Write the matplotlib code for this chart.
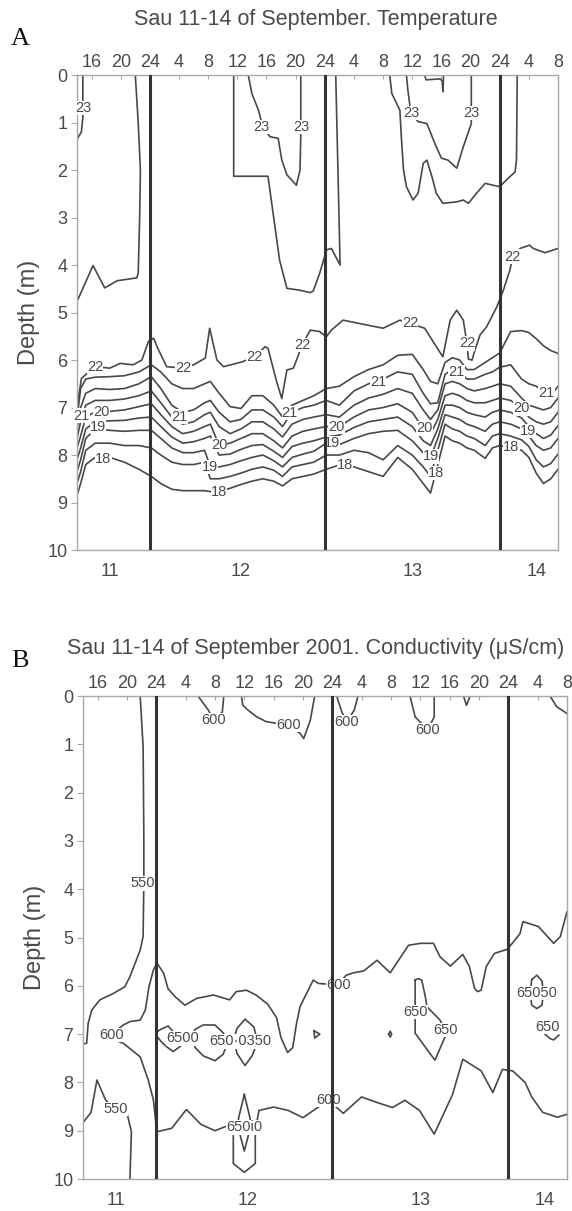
import numpy as np
import matplotlib
matplotlib.use('Agg')
import matplotlib.pyplot as plt

plt.rcParams['font.family'] = ['Liberation Sans', 'DejaVu Sans']

# ---------------- axis data ----------------
HOUR_TICKS = list(range(16, 81, 4))
HOUR_LABELS = ['16', '20', '24', '4', '8', '12', '16', '20', '24', '4', '8',
               '12', '16', '20', '24', '4', '8']
DAY_LABELS = ['11', '12', '13', '14']
DAY_POS = [18.5, 36.5, 60.0, 77.0]
MIDNIGHTS = [24, 48, 72]
DEPTH_TICKS = list(range(0, 11))

# ---------------- panel A: temperature isolines (hour, depth) ----------------
t23_left = [14.8, 14.8, 14.6, 14.0]
d23_left = [0.0, 0.9, 1.2, 1.35]

t225_left = [22.0, 22.4, 22.7, 22.6, 22.4, 22.2, 19.5, 18.5, 17.8, 16.2, 14.2, 14.0]
d225_left = [0.0, 1.0, 2.0, 3.0, 4.17, 4.27, 4.33, 4.42, 4.48, 4.01, 4.7, 4.75]

t23_d12 = [37.5, 38.0, 38.9, 39.5, 40.5, 41.6, 42.1, 42.8, 44.1, 44.6, 44.7, 44.7]
d23_d12 = [0.0, 0.39, 0.74, 1.1, 1.30, 1.33, 1.79, 2.1, 2.32, 2.0, 1.3, 0.0]

t225_d12 = [35.5, 35.5, 40.2, 41.8, 42.8, 44.6, 46.0, 46.4, 47.3, 48.25, 48.9, 50.1, 49.8, 49.5]
d225_d12 = [0.0, 2.13, 2.13, 3.9, 4.49, 4.53, 4.58, 4.55, 4.17, 3.68, 3.65, 4.0, 2.0, 0.0]

t23_d13 = [59.2, 59.4, 59.7, 59.9, 60.8, 62.0, 63.1, 64.0, 64.9, 66.1, 67.0, 68.1, 68.1, 68.1]
d23_d13 = [0.0, 0.32, 0.67, 0.8, 0.98, 1.02, 1.44, 1.75, 1.79, 1.96, 1.51, 1.02, 0.39, 0.0]

t225_d13 = [56.9, 57.2, 58.3, 58.5, 58.8, 59.2, 60.1, 60.8, 61.5, 62.0, 62.7, 63.3, 64.2,
            66.1, 67.0, 67.7, 68.8, 70.0, 71.1, 72.0, 72.9, 74.1, 74.3, 74.4]
d225_d13 = [0.0, 0.39, 0.74, 1.3, 2.0, 2.35, 2.63, 2.49, 1.86, 1.79, 2.14, 2.49, 2.7,
            2.67, 2.63, 2.7, 2.49, 2.28, 2.32, 2.35, 2.21, 2.04, 1.79, 0.0]

t23_small = [61.7, 61.9, 63.8, 64.1, 64.2, 64.3]
d23_small = [0.0, 0.1, 0.08, 0.12, 0.35, 0.0]

t22 = [14.0, 14.6, 15.1, 16.5, 18.5, 19.9, 21.7, 22.9, 23.8, 24.5, 25.2, 26.3, 28.6,
       30.0, 31.6, 32.2, 33.2, 34.1, 36.6, 38.3, 39.8, 40.2, 41.4, 42.1, 42.8, 43.7,
       44.9, 46.0, 47.3, 48.2, 48.9, 50.5, 53.7, 56.0, 58.3, 59.7, 61.7, 63.6, 64.2,
       65.2, 66.1, 67.0, 67.5, 67.7, 68.2, 68.6, 69.3, 70.2, 71.6, 72.5, 73.4, 73.8,
       74.8, 76.1, 76.6, 78.2, 80.0]
d22 = [7.0, 6.39, 6.32, 6.14, 6.17, 6.07, 6.1, 6.0, 5.61, 5.54, 5.79, 6.14, 6.17,
       6.1, 5.96, 5.33, 6.0, 6.14, 6.04, 5.94, 5.72, 5.75, 6.46, 6.81, 6.21, 6.17,
       5.68, 5.37, 5.40, 5.51, 5.37, 5.16, 5.26, 5.33, 5.16, 5.23, 5.33, 5.79, 5.93,
       5.16, 4.95, 5.16, 5.65, 5.98, 6.0, 5.79, 5.47, 5.30, 4.88, 4.53, 4.1, 3.82,
       3.65, 3.58, 3.65, 3.74, 3.65]

# thermocline isotherms 21.5 .. 18 on a shared set of hours
t_th = [14.0, 14.5, 15.2, 16.5, 18.5, 20.5, 22.5, 24.2, 25.5, 27.0, 28.5, 30.0, 31.5,
        32.3, 33.5, 35.0, 36.5, 38.0, 39.5, 41.0, 42.2, 43.5, 45.0, 46.5, 48.2, 50.0,
        52.0, 54.0, 56.0, 58.0, 60.0, 61.5, 62.5, 63.5, 64.5, 65.5, 66.5, 67.5, 68.5,
        70.0, 71.0, 72.0, 73.5, 75.0, 76.0, 77.0, 78.0, 79.0, 80.0]
d215 = [7.25, 6.6, 6.4, 6.36, 6.35, 6.33, 6.25, 6.1, 6.25, 6.5, 6.6, 6.6, 6.5,
        6.45, 6.7, 6.98, 7.02, 6.75, 6.75, 6.95, 7.2, 6.95, 6.85, 6.75, 6.6, 6.55,
        6.35, 6.2, 6.1, 5.9, 5.88, 6.2, 6.45, 6.5, 6.05, 5.95, 6.0, 6.2, 6.2,
        6.05, 5.95, 5.85, 5.4, 5.38, 5.42, 5.55, 5.7, 5.8, 5.86]
d21 = [7.45, 7.0, 6.7, 6.6, 6.62, 6.6, 6.5, 6.35, 6.6, 6.95, 7.1, 7.05, 6.9,
       6.85, 7.1, 7.3, 7.25, 7.05, 7.05, 7.2, 7.4, 7.1, 7.0, 6.95, 6.85, 6.95,
       6.65, 6.5, 6.4, 6.25, 6.3, 6.7, 6.92, 6.9, 6.3, 6.2, 6.25, 6.4, 6.4,
       6.3, 6.25, 6.15, 6.1, 6.4, 6.5, 6.55, 6.68, 6.75, 6.55]
d205 = [7.65, 7.3, 6.95, 6.85, 6.85, 6.82, 6.75, 6.65, 6.9, 7.2, 7.35, 7.3, 7.15,
        7.1, 7.4, 7.55, 7.45, 7.3, 7.3, 7.45, 7.62, 7.35, 7.25, 7.2, 7.15, 7.2,
        6.95, 6.8, 6.72, 6.6, 6.7, 7.05, 7.25, 7.05, 6.5, 6.45, 6.5, 6.6, 6.65,
        6.6, 6.55, 6.5, 6.55, 6.8, 6.95, 7.0, 7.05, 7.0, 6.8]
d20 = [7.85, 7.6, 7.2, 7.09, 7.08, 7.05, 6.98, 6.92, 7.15, 7.4, 7.55, 7.5, 7.4,
       7.35, 7.79, 7.75, 7.65, 7.55, 7.55, 7.7, 7.85, 7.6, 7.5, 7.45, 7.4, 7.4,
       7.2, 7.05, 7.0, 6.92, 7.1, 7.44, 7.55, 7.25, 6.75, 6.7, 6.75, 6.85, 6.9,
       6.9, 6.85, 6.8, 6.85, 7.02, 7.2, 7.3, 7.35, 7.3, 7.1]
d195 = [8.1, 7.85, 7.45, 7.3, 7.28, 7.27, 7.22, 7.2, 7.4, 7.62, 7.75, 7.72, 7.65,
        7.6, 8.0, 7.98, 7.88, 7.8, 7.78, 7.92, 8.05, 7.82, 7.75, 7.7, 7.62, 7.58,
        7.42, 7.3, 7.25, 7.2, 7.4, 7.7, 7.8, 7.45, 6.95, 6.95, 7.0, 7.1, 7.15,
        7.2, 7.1, 7.05, 7.1, 7.22, 7.4, 7.55, 7.65, 7.58, 7.38]
d19 = [8.35, 8.1, 7.65, 7.45, 7.48, 7.5, 7.48, 7.48, 7.65, 7.85, 7.95, 7.95, 7.9,
       8.25, 8.25, 8.2, 8.12, 8.05, 8.0, 8.12, 8.25, 8.05, 7.98, 7.92, 7.75, 7.78,
       7.65, 7.55, 7.5, 7.48, 7.7, 7.95, 8.05, 7.65, 7.15, 7.2, 7.25, 7.35, 7.4,
       7.5, 7.35, 7.3, 7.35, 7.45, 7.6, 7.8, 7.9, 7.85, 7.65]
d185 = [8.6, 8.35, 7.9, 7.75, 7.75, 7.8, 7.8, 7.85, 8.0, 8.15, 8.2, 8.2, 8.15,
        8.5, 8.5, 8.45, 8.38, 8.3, 8.25, 8.32, 8.45, 8.25, 8.2, 8.15, 8.0, 8.0,
        7.9, 7.95, 8.1, 7.8, 8.0, 8.25, 8.45, 7.9, 7.35, 7.45, 7.5, 7.6, 7.65,
        7.8, 7.6, 7.55, 7.6, 7.68, 7.82, 8.1, 8.25, 8.18, 7.98]
d18 = [8.85, 8.6, 8.2, 8.05, 8.05, 8.15, 8.3, 8.45, 8.6, 8.72, 8.75, 8.75, 8.75,
       8.77, 8.77, 8.7, 8.62, 8.55, 8.5, 8.55, 8.65, 8.5, 8.45, 8.4, 8.3, 8.21,
       8.25, 8.35, 8.45, 8.05, 8.3, 8.6, 8.8, 8.2, 7.6, 7.7, 7.75, 7.85, 7.9,
       8.07, 7.85, 7.8, 7.84, 7.9, 8.05, 8.38, 8.6, 8.5, 8.3]

labels_a = [('23', 14.9, 0.7), ('23', 39.3, 1.09), ('23', 44.8, 1.1),
            ('23', 59.9, 0.8), ('23', 68.1, 0.8),
            ('22', 16.5, 6.14), ('22', 28.6, 6.17), ('22', 38.3, 5.94),
            ('22', 44.9, 5.68), ('22', 59.7, 5.23), ('22', 67.5, 5.65),
            ('22', 73.8, 3.82),
            ('21', 14.6, 7.17), ('21', 28.1, 7.19), ('21', 43.2, 7.12),
            ('21', 55.3, 6.46), ('21', 66.1, 6.25), ('21', 78.4, 6.7),
            ('20', 17.4, 7.09), ('20', 33.5, 7.79), ('20', 49.6, 7.4),
            ('20', 61.7, 7.44), ('20', 75.0, 7.02),
            ('19', 16.9, 7.4), ('19', 32.2, 8.25), ('19', 49.0, 7.75),
            ('19', 62.6, 8.03), ('19', 75.9, 7.5),
            ('18', 17.6, 8.08), ('18', 33.5, 8.77), ('18', 50.8, 8.21),
            ('18', 63.3, 8.38), ('18', 73.6, 7.84)]

# ---------------- panel B: conductivity isolines (hour, depth) ----------------
t550_top = [21.8, 22.2, 22.3, 22.3, 22.2, 21.8, 20.4, 19.7, 18.1, 16.3, 15.2, 14.7, 14.5, 14.0]
d550_top = [0.0, 1.05, 3.0, 3.8, 4.98, 5.26, 5.81, 6.02, 6.16, 6.29, 6.5, 6.78, 7.19, 7.2]

t550_bot = [14.0, 15.1, 15.9, 17.1, 18.4, 19.9, 20.6, 20.4]
d550_bot = [8.83, 8.62, 7.95, 8.37, 8.55, 8.57, 9.02, 10.0]

t600_up = [17.0, 17.9, 19.5, 20.4, 21.8, 22.5, 23.0, 23.6, 24.1, 25.0, 25.6, 26.6, 27.9,
           29.5, 31.8, 34.0, 34.9, 36.3, 37.6, 39.2, 40.4, 41.0, 41.9, 42.6, 43.1, 43.6,
           45.4, 46.1, 48.8, 49.9, 50.9, 52.3, 54.1, 55.9, 58.4, 60.0, 61.8, 62.7, 64.1,
           65.8, 66.7, 67.4, 67.8, 68.3, 69.0, 70.1, 71.9, 73.6, 74.0, 76.1, 78.2, 79.1, 80.0]
d600_up = [7.05, 7.0, 6.81, 6.74, 6.71, 6.5, 6.02, 5.67, 5.53, 5.74, 6.06, 6.23, 6.40,
           6.26, 6.19, 6.29, 6.12, 6.09, 6.19, 6.38, 6.66, 7.07, 7.38, 7.28, 6.8, 6.43,
           5.88, 5.95, 5.98, 5.78, 5.73, 5.69, 5.47, 5.73, 5.16, 5.12, 5.12, 5.4, 5.59,
           5.35, 5.6, 6.05, 6.12, 6.09, 5.6, 5.33, 5.24, 4.92, 4.67, 4.77, 5.12, 4.98, 4.47]

t600_low = [17.0, 18.0, 19.5, 20.9, 21.8, 22.9, 23.6, 24.0, 24.1, 26.1, 28.1, 30.1, 32.0,
            34.0, 34.5, 34.5, 36.0, 37.5, 37.5, 38.0, 40.0, 42.0, 44.0, 46.0, 47.5, 49.5,
            52.0, 54.0, 56.2, 57.9, 59.9, 61.9, 64.4, 65.8, 68.3, 69.9, 71.2, 72.6, 74.3,
            75.2, 76.7, 78.7, 80.0]
d600_low = [7.05, 7.1, 7.19, 7.36, 7.47, 7.95, 8.36, 8.92, 9.02, 8.95, 8.56, 8.87, 9.0,
            8.88, 9.0, 9.68, 9.86, 9.68, 9.0, 8.58, 8.51, 8.58, 8.73, 8.52, 8.37, 8.64,
            8.30, 8.41, 8.52, 8.37, 8.58, 9.07, 8.25, 7.52, 7.76, 8.21, 7.73, 7.76, 8.0,
            8.3, 8.62, 8.72, 8.66]

t600_s1 = [29.7, 31.1, 31.8, 33.0, 33.2]
d600_s1 = [0.0, 0.29, 0.5, 0.33, 0.0]
t600_s2 = [35.6, 35.8, 36.5, 37.7, 39.0, 42.0, 43.6, 44.1, 45.0, 45.6]
d600_s2 = [0.0, 0.19, 0.29, 0.43, 0.53, 0.6, 0.77, 0.88, 0.5, 0.0]
t600_s3 = [48.6, 49.3, 50.0, 51.0, 51.5]
d600_s3 = [0.0, 0.33, 0.53, 0.29, 0.0]
t600_s4 = [58.6, 59.3, 61.0, 61.9, 61.9]
d600_s4 = [0.0, 0.43, 0.7, 0.43, 0.0]
t600_s5 = [65.9, 66.3, 66.8]
d600_s5 = [0.0, 0.19, 0.0]
t600_s6 = [77.7, 78.6, 80.0]
d600_s6 = [0.0, 0.22, 0.36]

t650_a = [24.1, 24.5, 25.6, 26.3, 27.3, 27.8, 27.3, 26.3, 25.4, 24.7, 24.1]
d650_a = [6.95, 6.91, 6.83, 6.95, 7.0, 7.1, 7.25, 7.36, 7.26, 7.16, 7.05]
t650_b = [28.8, 29.3, 30.4, 32.0, 33.1, 33.8, 33.1, 32.0, 30.4, 29.3, 28.8]
d650_b = [7.05, 6.90, 6.81, 6.81, 6.97, 7.15, 7.42, 7.55, 7.45, 7.28, 7.05]
t650_c = [34.6, 35.0, 36.1, 37.3, 37.8, 37.1, 36.1, 35.0, 34.6]
d650_c = [7.1, 6.88, 6.69, 6.85, 7.15, 7.44, 7.65, 7.4, 7.1]
t650_d = [59.3, 59.7, 60.2, 60.7, 60.9, 62.7, 63.4, 63.4, 62.0, 59.3, 59.3]
d650_d = [5.88, 5.85, 5.88, 6.23, 6.43, 6.71, 6.92, 7.05, 7.54, 6.98, 5.88]
t650_e = [75.2, 75.9, 76.6, 76.8, 76.6, 75.9, 75.2, 75.0, 75.2]
d650_e = [5.87, 5.78, 5.9, 6.15, 6.4, 6.47, 6.4, 6.15, 5.87]
t650_f = [77.0, 77.7, 78.2, 78.9]
d650_f = [7.0, 7.09, 7.12, 7.02]
t650_g = [36.0, 35.2, 35.4, 36.0, 36.6, 36.8, 36.0]
d650_g = [8.25, 8.75, 9.07, 9.42, 9.07, 8.75, 8.25]
t650_h = [45.5, 46.3, 45.6, 45.5]
d650_h = [6.93, 7.0, 7.08, 6.93]
t650_i = [55.7, 55.9, 56.1, 55.9, 55.7]
d650_i = [7.0, 6.94, 7.0, 7.06, 7.0]

labels_b = [('600', 31.8, 0.5), ('600', 42.0, 0.6), ('600', 50.0, 0.53),
            ('600', 61.0, 0.7), ('550', 22.2, 3.88), ('600', 17.9, 7.02),
            ('600', 48.8, 5.98), ('6500', 27.6, 7.09), ('650\u00b70350', 35.4, 7.15),
            ('650', 59.3, 6.54), ('650', 63.4, 6.92), ('65050', 75.9, 6.15),
            ('650', 77.3, 6.85), ('550', 18.4, 8.55), ('650i0', 36.0, 8.93),
            ('600', 47.5, 8.37)]

LINE = '#484848'
TXT = '#4a4a4a'
SPINE = '#a8a8a8'


def setup(ax):
    ax.set_xlim(14, 80)
    ax.set_ylim(10, 0)
    for s in ax.spines.values():
        s.set_color(SPINE)
        s.set_linewidth(1.0)
    ax.xaxis.tick_top()
    ax.set_xticks(HOUR_TICKS)
    ax.set_xticklabels(HOUR_LABELS)
    ax.tick_params(axis='x', direction='in', length=3, color=SPINE,
                   labelsize=13, labelcolor=TXT, pad=3)
    ax.set_yticks(DEPTH_TICKS)
    ax.tick_params(axis='y', direction='out', length=4, color=SPINE,
                   labelsize=13, labelcolor=TXT, pad=3)
    ax.set_ylabel('Depth (m)', fontsize=17, color=TXT, labelpad=5)
    for lab, x in zip(DAY_LABELS, DAY_POS):
        ax.text(x, 10.45, lab, ha='center', va='center', fontsize=13, color=TXT)
    for m in MIDNIGHTS:
        ax.axvline(m, color='#333333', lw=2.2, zorder=5)


def iso(ax, t, d):
    ax.plot(t, d, color=LINE, lw=1.2, zorder=2)


def lab(ax, items):
    for s, x, y in items:
        ax.text(x, y, s, ha='center', va='center', fontsize=10.5, color=TXT, zorder=4,
                bbox=dict(facecolor='white', edgecolor='none', pad=0.15))


fig = plt.figure(figsize=(5.72, 12.11), dpi=100)

axA = fig.add_axes([0.1346, 0.5458, 0.841, 0.3922])
setup(axA)
for t, d in [(t23_left, d23_left), (t225_left, d225_left), (t23_d12, d23_d12),
             (t225_d12, d225_d12), (t23_d13, d23_d13), (t225_d13, d225_d13),
             (t23_small, d23_small), (t22, d22)]:
    iso(axA, t, d)
for d in [d215, d21, d205, d20, d195, d19, d185, d18]:
    iso(axA, t_th, d)
lab(axA, labels_a)

axB = fig.add_axes([0.1451, 0.0264, 0.846, 0.3988])
setup(axB)
for t, d in [(t550_top, d550_top), (t550_bot, d550_bot), (t600_up, d600_up),
             (t600_low, d600_low), (t600_s1, d600_s1), (t600_s2, d600_s2),
             (t600_s3, d600_s3), (t600_s4, d600_s4), (t600_s5, d600_s5),
             (t600_s6, d600_s6), (t650_a, d650_a), (t650_b, d650_b),
             (t650_c, d650_c), (t650_d, d650_d), (t650_e, d650_e),
             (t650_f, d650_f), (t650_g, d650_g), (t650_h, d650_h),
             (t650_i, d650_i)]:
    iso(axB, t, d)
lab(axB, labels_b)

fig.text(0.552, 0.9835, 'Sau 11-14 of September. Temperature', ha='center',
         va='center', fontsize=15.5, color=TXT)
fig.text(0.552, 0.4645, 'Sau 11-14 of September 2001. Conductivity (\u03bcS/cm)',
         ha='center', va='center', fontsize=15.5, color=TXT)
fig.text(0.019, 0.963, 'A', fontsize=19, family='Liberation Serif', color='#111111')
fig.text(0.019, 0.449, 'B', fontsize=19, family='Liberation Serif', color='#111111')

fig.savefig('out.png', dpi=100)
